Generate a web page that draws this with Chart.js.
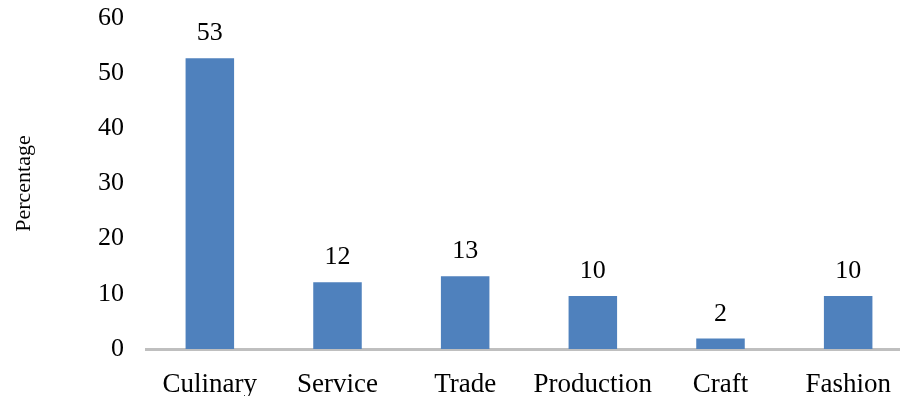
<!DOCTYPE html>
<html>
<head>
<meta charset="utf-8">
<script src="https://cdn.jsdelivr.net/npm/chart.js@4.4.1/dist/chart.umd.min.js"></script>
<style>
    html, body { margin: 0; padding: 0; background: #fff; }
    #wrap { width: 900px; height: 396px; overflow: hidden; position: relative; }
    canvas { display: block; }
</style>
</head>
<body>
<div id="wrap">
    <canvas id="sectorChart" width="912" height="396"></canvas>
</div>
<script>
// Business sectors and their share (percent)
const categories = ['Culinary', 'Service', 'Trade', 'Production', 'Craft', 'Fashion'];
const percentages = [52.7, 12.1, 13.2, 9.6, 1.9, 9.6];
const valueLabels = ['53', '12', '13', '10', '2', '10'];
const yTicks = [0, 10, 20, 30, 40, 50, 60];

const fontFamily = '"Liberation Serif", "Times New Roman", serif';

// Draws the value text above each bar
const barValueLabels = {
    id: 'barValueLabels',
    afterDatasetsDraw(chart) {
        const ctx = chart.ctx;
        const meta = chart.getDatasetMeta(0);
        ctx.save();
        ctx.font = '26px ' + fontFamily;
        ctx.fillStyle = '#000';
        ctx.textAlign = 'center';
        ctx.textBaseline = 'alphabetic';
        meta.data.forEach((bar, i) => {
            ctx.fillText(valueLabels[i], bar.x, bar.y - 18);
        });
        ctx.restore();
    }
};

const ctx = document.getElementById('sectorChart').getContext('2d');
new Chart(ctx, {
    type: 'bar',
    data: {
        labels: categories,
        datasets: [{
            label: 'Percentage',
            data: percentages,
            backgroundColor: '#4F81BD',
            borderWidth: 0,
            categoryPercentage: 1.0,
            barPercentage: 0.38
        }]
    },
    options: {
        responsive: false,
        animation: false,
        layout: { padding: { top: 18, right: 0, bottom: 0, left: 0 } },
        plugins: {
            legend: { display: false },
            tooltip: { enabled: false }
        },
        scales: {
            x: {
                grid: { display: false, drawTicks: false },
                border: { display: true, color: '#BFBFBF', width: 3 },
                ticks: { color: '#000', padding: 20, font: { family: fontFamily, size: 27 }, maxRotation: 0 },
                afterFit(scale) { scale.height = 47; scale.paddingLeft = 0; scale.paddingRight = 0; }
            },
            y: {
                min: 0,
                max: 60,
                grid: { display: false, drawTicks: false },
                border: { display: false },
                afterBuildTicks(scale) { scale.ticks = yTicks.map(v => ({ value: v })); },
                ticks: { color: '#000', padding: 22, font: { family: fontFamily, size: 26 } },
                title: {
                    display: true,
                    text: 'Percentage',
                    color: '#000',
                    font: { family: fontFamily, size: 22 },
                    padding: { top: 11, bottom: 0 }
                },
                afterFit(scale) { scale.width = 146; scale.paddingTop = 0; scale.paddingBottom = 0; }
            }
        }
    },
    plugins: [barValueLabels]
});
</script>
</body>
</html>
